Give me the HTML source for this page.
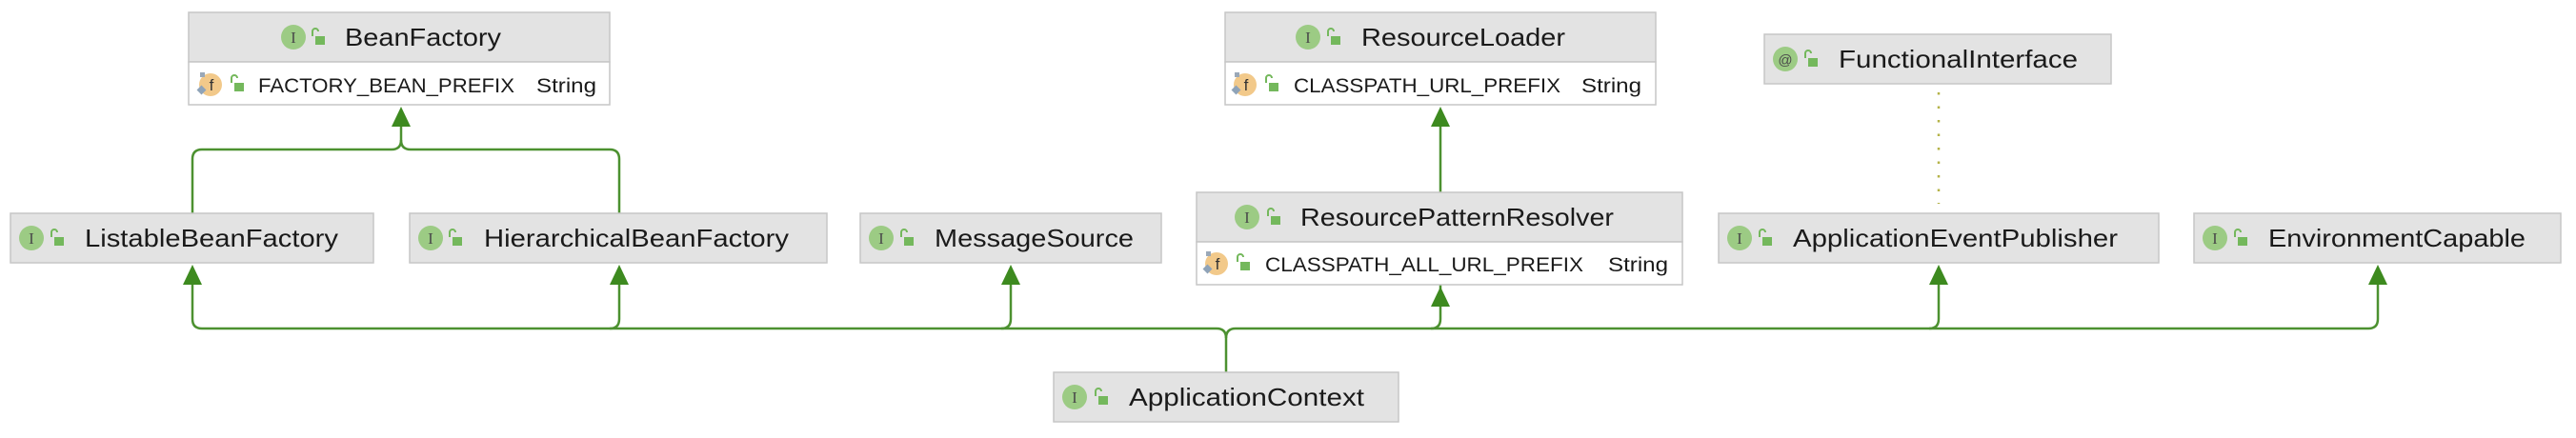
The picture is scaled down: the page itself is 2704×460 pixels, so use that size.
<!DOCTYPE html>
<html><head><meta charset="utf-8"><style>
html,body{margin:0;padding:0;background:#fff;}
svg{display:block;}
text{font-family:"Liberation Sans",sans-serif;fill:#1a1a1a;}
</style></head><body>
<svg width="2704" height="460" viewBox="0 0 2704 460" xmlns="http://www.w3.org/2000/svg">
<defs>
<g id="ic"><circle r="13" fill="#9ccb84"/><text x="0" y="6" text-anchor="middle" style="font-family:'Liberation Serif',serif;font-size:17px;fill:#4a4a4a">I</text></g>
<g id="at"><circle r="13" fill="#9ccb84"/><text x="0" y="6" text-anchor="middle" style="font-size:15px;fill:#4a4a4a">@</text></g>
<g id="lk"><path d="M-5,-2 v-5 a3,3 0 0 1 6,0" fill="none" stroke="#74b85c" stroke-width="2"/><rect x="-2" y="-2" width="10" height="9" fill="#74b85c"/></g>
<g id="fi"><circle r="12" fill="#f2c98a"/><text x="1" y="6" text-anchor="middle" style="font-size:17px;fill:#333">f</text><rect x="-13" y="2" width="7" height="7" fill="#8fa3b8" transform="rotate(45 -9.5 5.5)"/><rect x="-11" y="-13" width="5" height="5" fill="#9aa8b8"/></g>
<polygon id="ah" points="0,0 -10,21 10,21" fill="#3d8a1f"/>
</defs>

<g fill="none" stroke="#4c9130" stroke-width="2.5">
<!-- BeanFactory branches -->
<path d="M421,132 V147 Q421,157 411,157 H212 Q202,157 202,167 V224"/>
<path d="M421,147 Q421,157 431,157 H640 Q650,157 650,167 V224"/>
<!-- ResourceLoader -->
<path d="M1512,130 V202"/>
<!-- bus -->
<path d="M1287,391 V355 Q1287,345 1277,345 H212 Q202,345 202,335 V299"/>
<path d="M1287,355 Q1287,345 1297,345 H2486 Q2496,345 2496,335 V299"/>
<path d="M640,345 Q650,345 650,335 V299"/>
<path d="M1051,345 Q1061,345 1061,335 V299"/>
<path d="M1502,345 Q1512,345 1512,335 V299"/>
<path d="M2025,345 Q2035,345 2035,335 V299"/>
</g>
<path d="M2035,97 V214" stroke="#b5b348" stroke-width="2.5" stroke-dasharray="2.5,12" fill="none"/>

<use href="#ah" x="421" y="112"/>
<use href="#ah" x="1512" y="112"/>
<use href="#ah" x="202" y="278"/>
<use href="#ah" x="650" y="278"/>
<use href="#ah" x="1061" y="278"/>
<use href="#ah" x="1512" y="301"/>
<use href="#ah" x="2035" y="278"/>
<use href="#ah" x="2496" y="278"/>

<g stroke="#c6c6c6" stroke-width="1.5">
<!-- BeanFactory -->
<rect x="198" y="13" width="442" height="52" fill="#e3e3e3"/>
<rect x="198" y="65" width="442" height="45" fill="#fff"/>
<!-- ResourceLoader -->
<rect x="1286" y="13" width="452" height="52" fill="#e3e3e3"/>
<rect x="1286" y="65" width="452" height="45" fill="#fff"/>
<!-- RPR -->
<rect x="1256" y="202" width="510" height="52" fill="#e3e3e3"/>
<rect x="1256" y="254" width="510" height="45" fill="#fff"/>
<rect x="1852" y="36" width="364" height="52" fill="#e3e3e3"/>
<rect x="11" y="224" width="381" height="52" fill="#e3e3e3"/>
<rect x="430" y="224" width="438" height="52" fill="#e3e3e3"/>
<rect x="903" y="224" width="316" height="52" fill="#e3e3e3"/>
<rect x="1804" y="224" width="462" height="52" fill="#e3e3e3"/>
<rect x="2303" y="224" width="385" height="52" fill="#e3e3e3"/>
<rect x="1106" y="391" width="362" height="52" fill="#e3e3e3"/>
</g>

<!-- headers -->
<use href="#ic" x="308" y="39"/><use href="#lk" x="333" y="40"/>
<text x="362" y="48" font-size="26" textLength="164" lengthAdjust="spacingAndGlyphs">BeanFactory</text>
<use href="#fi" x="221" y="89"/><use href="#lk" x="248" y="89"/>
<text x="271" y="97" font-size="21" textLength="269" lengthAdjust="spacingAndGlyphs">FACTORY_BEAN_PREFIX</text>
<text x="563" y="97" font-size="21" textLength="63" lengthAdjust="spacingAndGlyphs">String</text>

<use href="#ic" x="1373" y="39"/><use href="#lk" x="1334" y="40" transform="translate(65,0)"/>
<text x="1429" y="48" font-size="26" textLength="214" lengthAdjust="spacingAndGlyphs">ResourceLoader</text>
<use href="#fi" x="1307" y="89"/><use href="#lk" x="1334" y="89"/>
<text x="1358" y="97" font-size="21" textLength="280" lengthAdjust="spacingAndGlyphs">CLASSPATH_URL_PREFIX</text>
<text x="1660" y="97" font-size="21" textLength="63" lengthAdjust="spacingAndGlyphs">String</text>

<use href="#ic" x="1309" y="228"/><use href="#lk" x="1336" y="229"/>
<text x="1365" y="237" font-size="26" textLength="329" lengthAdjust="spacingAndGlyphs">ResourcePatternResolver</text>
<use href="#fi" x="1277" y="277"/><use href="#lk" x="1304" y="277"/>
<text x="1328" y="285" font-size="21" textLength="334" lengthAdjust="spacingAndGlyphs">CLASSPATH_ALL_URL_PREFIX</text>
<text x="1688" y="285" font-size="21" textLength="63" lengthAdjust="spacingAndGlyphs">String</text>

<use href="#at" x="1874" y="62"/><use href="#lk" x="1900" y="63"/>
<text x="1930" y="71" font-size="26" textLength="251" lengthAdjust="spacingAndGlyphs">FunctionalInterface</text>

<use href="#ic" x="33" y="250"/><use href="#lk" x="59" y="251"/>
<text x="89" y="259" font-size="26" textLength="266" lengthAdjust="spacingAndGlyphs">ListableBeanFactory</text>
<use href="#ic" x="452" y="250"/><use href="#lk" x="477" y="251"/>
<text x="508" y="259" font-size="26" textLength="320" lengthAdjust="spacingAndGlyphs">HierarchicalBeanFactory</text>
<use href="#ic" x="925" y="250"/><use href="#lk" x="951" y="251"/>
<text x="981" y="259" font-size="26" textLength="209" lengthAdjust="spacingAndGlyphs">MessageSource</text>
<use href="#ic" x="1826" y="250"/><use href="#lk" x="1852" y="251"/>
<text x="1882" y="259" font-size="26" textLength="341" lengthAdjust="spacingAndGlyphs">ApplicationEventPublisher</text>
<use href="#ic" x="2325" y="250"/><use href="#lk" x="2351" y="251"/>
<text x="2381" y="259" font-size="26" textLength="270" lengthAdjust="spacingAndGlyphs">EnvironmentCapable</text>
<use href="#ic" x="1128" y="417"/><use href="#lk" x="1155" y="418"/>
<text x="1185" y="426" font-size="26" textLength="247" lengthAdjust="spacingAndGlyphs">ApplicationContext</text>
</svg>
</body></html>
